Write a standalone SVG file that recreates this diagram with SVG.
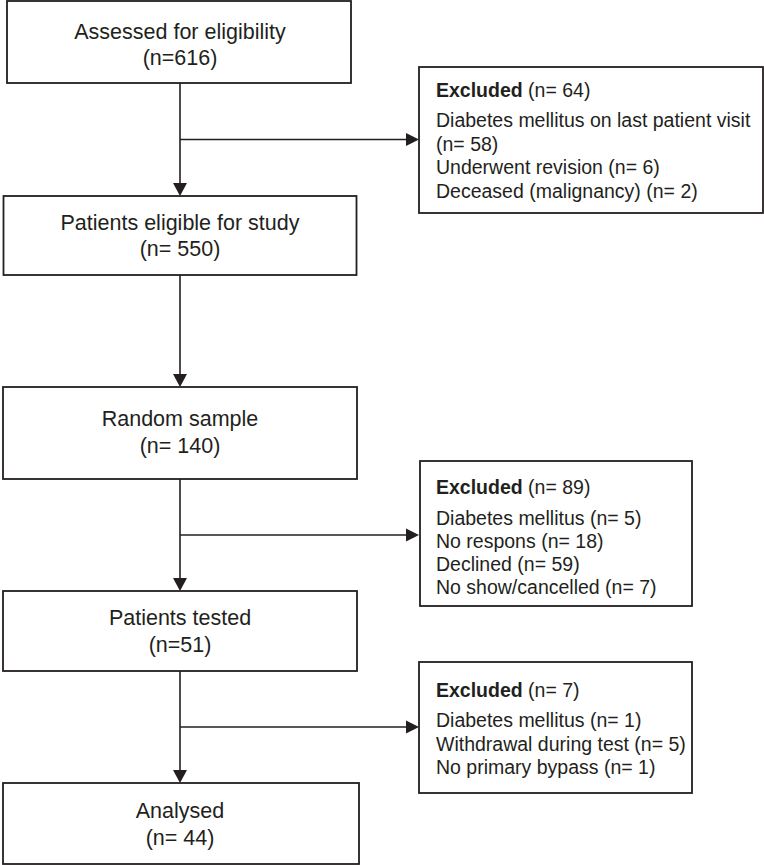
<svg xmlns="http://www.w3.org/2000/svg" width="764" height="865" viewBox="0 0 764 865">
<defs>
<style>
.box{fill:#fff;stroke:#231f20;stroke-width:1.8}
.t{font-family:"Liberation Sans",Arial,sans-serif;font-size:21.5px;fill:#231f20;text-anchor:middle}
.e{font-family:"Liberation Sans",Arial,sans-serif;font-size:19.5px;fill:#231f20}
.b{font-weight:bold}
.c{stroke:#231f20;stroke-width:1.6;fill:none}
.h{fill:#231f20}
</style>
</defs>
<rect width="764" height="865" fill="#fff"/>
<g id="connectors">
<line class="c" x1="180" y1="83" x2="180" y2="185"/>
<polygon class="h" points="173,183 187,183 180,196"/>
<line class="c" x1="180" y1="139.5" x2="408" y2="139.5"/>
<polygon class="h" points="406,133 406,146 419,139.5"/>
<line class="c" x1="180" y1="275" x2="180" y2="376"/>
<polygon class="h" points="173,374 187,374 180,387"/>
<line class="c" x1="180" y1="479" x2="180" y2="580"/>
<polygon class="h" points="173,578 187,578 180,591"/>
<line class="c" x1="180" y1="535" x2="408" y2="535"/>
<polygon class="h" points="406,528.5 406,541.5 419,535"/>
<line class="c" x1="180" y1="671" x2="180" y2="772"/>
<polygon class="h" points="173,770 187,770 180,783"/>
<line class="c" x1="180" y1="727" x2="408" y2="727"/>
<polygon class="h" points="406,720.5 406,733.5 419,727"/>
</g>
<g id="n1">
<rect class="box" x="7" y="1" width="344" height="82"/>
<text class="t" x="180" y="38.5">Assessed for eligibility</text>
<text class="t" x="180" y="64.5">(n=616)</text>
</g>
<g id="n2">
<rect class="box" x="3.5" y="196" width="353" height="79"/>
<text class="t" x="180" y="230">Patients eligible for study</text>
<text class="t" x="180" y="256">(n= 550)</text>
</g>
<g id="n3">
<rect class="box" x="3" y="387" width="354" height="92"/>
<text class="t" x="180" y="426">Random sample</text>
<text class="t" x="180" y="453">(n= 140)</text>
</g>
<g id="n4">
<rect class="box" x="3" y="591" width="354" height="80"/>
<text class="t" x="180" y="625">Patients tested</text>
<text class="t" x="180" y="652">(n=51)</text>
</g>
<g id="n5">
<rect class="box" x="3" y="783" width="356" height="81"/>
<text class="t" x="180" y="818">Analysed</text>
<text class="t" x="180" y="845">(n= 44)</text>
</g>
<g id="x1">
<rect class="box" x="419" y="67" width="344" height="146"/>
<text class="e" x="436" y="97"><tspan class="b">Excluded</tspan> (n= 64)</text>
<text class="e" x="436" y="127">Diabetes mellitus on last patient visit</text>
<text class="e" x="436" y="151">(n= 58)</text>
<text class="e" x="436" y="174">Underwent revision (n= 6)</text>
<text class="e" x="436" y="198">Deceased (malignancy) (n= 2)</text>
</g>
<g id="x2">
<rect class="box" x="420" y="461" width="272" height="145"/>
<text class="e" x="436" y="494"><tspan class="b">Excluded</tspan> (n= 89)</text>
<text class="e" x="436" y="524.5">Diabetes mellitus (n= 5)</text>
<text class="e" x="436" y="547.5">No respons (n= 18)</text>
<text class="e" x="436" y="570.5">Declined (n= 59)</text>
<text class="e" x="436" y="593.5">No show/cancelled (n= 7)</text>
</g>
<g id="x3">
<rect class="box" x="419" y="662" width="273" height="131"/>
<text class="e" x="436" y="697"><tspan class="b">Excluded</tspan> (n= 7)</text>
<text class="e" x="436" y="727">Diabetes mellitus (n= 1)</text>
<text class="e" x="436" y="751">Withdrawal during test (n= 5)</text>
<text class="e" x="436" y="774">No primary bypass (n= 1)</text>
</g>
</svg>
